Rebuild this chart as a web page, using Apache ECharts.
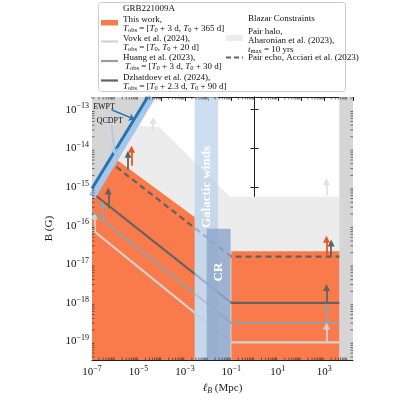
<!DOCTYPE html>
<html><head><meta charset="utf-8">
<script src="https://cdn.jsdelivr.net/npm/echarts@6/dist/echarts.min.js"></script>
<style>html,body{margin:0;padding:0;background:#fff}#c{width:400px;height:400px}</style>
</head><body><div id="c"></div>
<script>
// all values in log10 units
const xRange = [-7, 4.24];
const yRange = [-19.48, -12.67];
const darkLeft = [[-7,-12.67],[-4.6,-12.67],[-7,-15.04]];
const darkRight = [[3.65,-12.67],[4.24,-12.67],[4.24,-19.48],[3.65,-19.48]];
const halo = [[-5.15,-13.4],[-4.1,-13.45],[-1.06,-15.25],[3.65,-15.25],[3.65,-19.48],[-7,-19.48],[-7,-15.25]];
const orangeL = [[-7,-15.08],[-5.95,-14.29],[-2.57,-15.78],[-2.57,-19.48],[-7,-19.48]];
const orangeR = [[-1.0,-16.66],[3.65,-16.66],[3.65,-19.48],[-1.0,-19.48]];
const winds = [[-2.58,-12.67],[-1.57,-12.67],[-1.57,-19.48],[-2.58,-19.48]];
const crBand = [[-2.06,-16.08],[-1.03,-16.08],[-1.03,-19.48],[-2.06,-19.48]];
const echoLine = [[-5.95,-14.48],[-1.0,-16.8],[3.65,-16.8]];
const dzhLine = [[-6.88,-15.2],[-1.0,-18.0],[3.65,-18.0]];
const huangLine = [[-7,-15.63],[-1.0,-18.52],[3.65,-18.52]];
const vovkLine = [[-7,-16.1],[-1.0,-19.02],[3.65,-19.02]];
const ewptLine = [[-7,-15.04],[-4.6,-12.67]];
const qcdptLine = [[-7,-15.25],[-4.42,-12.67]];
// arrows: x, yStart, yEnd
const arrOrange = [[-5.3,-14.45,-14.02],[3.1,-16.8,-16.35]];
const arrEcho = [[-5.45,-14.55,-14.15],[3.3,-16.8,-16.45]];
const arrDzh = [[-6.3,-15.55,-15.1],[3.1,-18.0,-17.6]];
const arrHuang = [[-6.55,-15.85,-15.45],[3.1,-18.5,-18.1]];
const arrVovk = [[-6.9,-16.15,-15.75],[3.1,-19.0,-18.6]];
const arrHalo = [[-4.37,-13.56,-13.28],[3.1,-15.22,-14.86]];

const C = {orange:'#f97b4b', dark:'#626262', mid:'#9d9d9d', light:'#d2d2d2', halo:'#ececec', strip:'#d5d5d5'};
const serif = 'Liberation Serif';

function poly(pts, color, z, opacity){
  return {type:'custom', z:z, silent:true, data:[0],
    renderItem:(p,api)=>({type:'polygon', shape:{points:pts.map(q=>api.coord(q))},
      style:{fill:color, opacity:opacity==null?1:opacity}})};
}
function line(pts, color, w, z, dash){
  return {type:'line', data:pts, symbol:'none', z:z, silent:true, animation:false,
    lineStyle:{color:color, width:w, type:dash?[6,4]:'solid'}};
}
function arrows(arr, color){
  return {type:'lines', coordinateSystem:'cartesian2d', z:20, silent:true,
    symbol:['none','triangle'], symbolSize:[0,7],
    lineStyle:{color:color, width:1.8, opacity:1},
    data:arr.map(a=>({coords:[[a[0],a[1]],[a[0],a[2]]]}))};
}
function annArrow(pts,color){
  return {type:'lines', coordinateSystem:'cartesian2d', z:20, silent:true,
    symbol:['none','arrow'], symbolSize:[0,6], lineStyle:{color:color,width:1.5,opacity:1},
    data:[{coords:pts}]};
}
function minorTicks(){
  return {type:'custom', z:30, silent:true, data:[0], renderItem:(p,api)=>{
    const ch=[];
    for(let n=-8;n<=4;n++)for(let k=2;k<=9;k++){
      const v=n+Math.log10(k); if(v<xRange[0]||v>xRange[1])continue;
      const b=api.coord([v,yRange[0]]), t=api.coord([v,yRange[1]]);
      ch.push({type:'line',shape:{x1:b[0],y1:b[1],x2:b[0],y2:b[1]-2.5},style:{stroke:'#333',lineWidth:0.7}});
      ch.push({type:'line',shape:{x1:t[0],y1:t[1],x2:t[0],y2:t[1]+2.5},style:{stroke:'#333',lineWidth:0.7}});
    }
    for(let n=-20;n<=-12;n++)for(let k=2;k<=9;k++){
      const v=n+Math.log10(k); if(v<yRange[0]||v>yRange[1])continue;
      const l=api.coord([xRange[0],v]), r=api.coord([xRange[1],v]);
      ch.push({type:'line',shape:{x1:l[0],y1:l[1],x2:l[0]+2.5,y2:l[1]},style:{stroke:'#333',lineWidth:0.7}});
      ch.push({type:'line',shape:{x1:r[0],y1:r[1],x2:r[0]-2.5,y2:r[1]},style:{stroke:'#333',lineWidth:0.7}});
    }
    return {type:'group',children:ch};
  }};
}
function texts(){
  return {type:'custom', z:25, silent:true, data:[0], renderItem:(p,api)=>{
    const w=api.coord([-2.075,-15.0]), cr=api.coord([-1.545,-17.2]);
    const e=api.coord([-6.95,-12.92]), q=api.coord([-6.8,-13.28]);
    return {type:'group',children:[
      {type:'text',x:w[0],y:w[1],rotation:Math.PI/2,style:{text:'Galactic winds',fill:'#fff',font:'bold 13px "Liberation Serif"',align:'center',verticalAlign:'middle'}},
      {type:'text',x:cr[0],y:cr[1],rotation:Math.PI/2,style:{text:'CR',fill:'#fff',font:'bold 13px "Liberation Serif"',align:'center',verticalAlign:'middle'}},
      {type:'text',x:e[0],y:e[1],style:{text:'EWPT',fill:'#111',font:'8px "Liberation Serif"',verticalAlign:'middle'}},
      {type:'text',x:q[0],y:q[1],style:{text:'QCDPT',fill:'#111',font:'8px "Liberation Serif"',verticalAlign:'middle'}}
    ]};
  }};
}
const sup = {a:{fontSize:11,fontFamily:serif,color:'#111'}, s:{fontSize:8,fontFamily:serif,color:'#111',verticalAlign:'top',padding:[0,0,7,0]}};
function expLabel(v){ return '{a|10}{s|'+String(v).replace('-','−')+'}'; }

const rich9 = {i:{fontStyle:'italic',fontFamily:serif,fontSize:9,color:'#111'}, sub:{fontFamily:serif,fontSize:6.5,color:'#111',padding:[4,0,0,0]},
  n:{fontFamily:serif,fontSize:9,color:'#111'}};
function tobs(a,b){ return '{i|T}{sub|obs}{n| = [}{i|T}{sub|0}{n|'+a+', }{i|T}{sub|0}{n|'+b+']}'; }
function txt(x,y,s,rich){ return {type:'text',left:x,top:y,z:100,style:{text:s,rich:rich||rich9,font:'9px "Liberation Serif"',fill:'#111'}}; }
const graphics = [
  {type:'rect',left:98,top:2,z:99,shape:{width:247,height:89,r:3},style:{fill:'#fff',stroke:'#ccc',lineWidth:1}},
  txt(123,4,'{n|GRB221009A}'),
  {type:'rect',left:101,top:20,z:100,shape:{width:17,height:5.5},style:{fill:C.orange}},
  txt(123,15,'{n|This work,}'), txt(123,24,tobs(' + 3 d',' + 365 d')),
  {type:'line',z:100,shape:{x1:101,y1:41.5,x2:118,y2:41.5},style:{stroke:C.light,lineWidth:2.2}},
  txt(123,34,'{n|Vovk et al. (2024),}'), txt(123,43,'{i|T}{sub|obs}{n| = [}{i|T}{sub|0}{n|, }{i|T}{sub|0}{n| + 20 d]}'),
  {type:'line',z:100,shape:{x1:101,y1:61,x2:118,y2:61},style:{stroke:C.mid,lineWidth:2.2}},
  txt(123,53,'{n|Huang et al. (2023),}'), txt(125,62,tobs(' + 3 d',' + 30 d')),
  {type:'line',z:100,shape:{x1:101,y1:80.5,x2:118,y2:80.5},style:{stroke:C.dark,lineWidth:2.2}},
  txt(123,73,'{n|Dzhatdoev et al. (2024),}'), txt(123,82,tobs(' + 2.3 d',' + 90 d')),
  txt(248,14,'{n|Blazar Constraints}'),
  {type:'rect',left:226,top:35,z:100,shape:{width:17,height:6},style:{fill:C.halo}},
  txt(248,27,'{n|Pair halo,}'), txt(248,36,'{n|Aharonian et al. (2023),}'),
  txt(248,45,'{i|t}{sub|max}{n| = 10 yrs}'),
  {type:'line',z:100,shape:{x1:226,y1:57.5,x2:243,y2:57.5},style:{stroke:C.dark,lineWidth:2.2,lineDash:[5,3]}},
  txt(248,53,'{n|Pair echo, Acciari et al. (2023)}')
];

const axCommon = {type:'value', splitLine:{show:false}, axisLine:{lineStyle:{color:'#222',width:1}},
  axisTick:{inside:true,length:4,lineStyle:{color:'#222'}}};
const chart = echarts.init(document.getElementById('c'));
chart.setOption({
  animation:false,
  grid:{left:92,right:47,top:97,bottom:34},
  xAxis:[
    Object.assign({}, axCommon, {min:xRange[0],max:xRange[1],interval:1,position:'bottom',
      name:'{i|ℓ}{sb|B}{n| (Mpc)}', nameLocation:'middle', nameGap:18,
      nameTextStyle:{rich:{i:{fontStyle:'italic',fontFamily:serif,fontSize:11},sb:{fontStyle:'italic',fontFamily:serif,fontSize:8,padding:[5,0,0,0]},n:{fontFamily:serif,fontSize:11}}},
      axisLabel:{margin:5,formatter:v=>(Math.round(v)===v && ((v+7)%2===0))?expLabel(v):'', rich:sup, showMaxLabel:false}}),
    Object.assign({}, axCommon, {min:xRange[0],max:xRange[1],interval:1,position:'top',axisLabel:{show:false}})
  ],
  yAxis:[
    Object.assign({}, axCommon, {min:yRange[0],max:yRange[1],splitNumber:7,position:'left',
      name:'B (G)', nameLocation:'middle', nameGap:22, nameTextStyle:{fontFamily:serif,fontSize:11,color:'#111'},
      axisLabel:{margin:3,formatter:v=>Math.round(v)===v?expLabel(v):'', rich:sup}}),
    Object.assign({}, axCommon, {min:yRange[0],max:yRange[1],splitNumber:7,position:'right',axisLabel:{show:false}})
  ],
  graphic:graphics,
  series:[
    poly(halo,C.halo,1), poly(darkLeft,C.strip,2), poly(darkRight,C.strip,2),
    poly(orangeL,C.orange,3), poly(orangeR,C.orange,3),
    line(vovkLine,C.light,2.2,5), line(huangLine,C.mid,2.2,5), line(dzhLine,C.dark,2.2,5),
    line(echoLine,C.dark,2.2,5,true),
    poly(winds,'#b7d0e8',8,0.7), poly(crBand,'#8fa8cd',9,0.85),
    line(qcdptLine,'#a7c7ea',7,10), line(ewptLine,'#2575b5',3,11),
    arrows(arrHalo,'#e2e2e2'), arrows(arrVovk,C.light), arrows(arrHuang,C.mid), arrows(arrDzh,C.dark),
    arrows(arrEcho,C.dark), arrows(arrOrange,'#f4511e'),
    annArrow([[-6.16,-13.0],[-5.16,-13.25]],'#2575b5'), annArrow([[-6.16,-13.4],[-6.02,-14.15]],'#a7c7ea'),
    texts(), minorTicks()
  ]
});
</script></body></html>
